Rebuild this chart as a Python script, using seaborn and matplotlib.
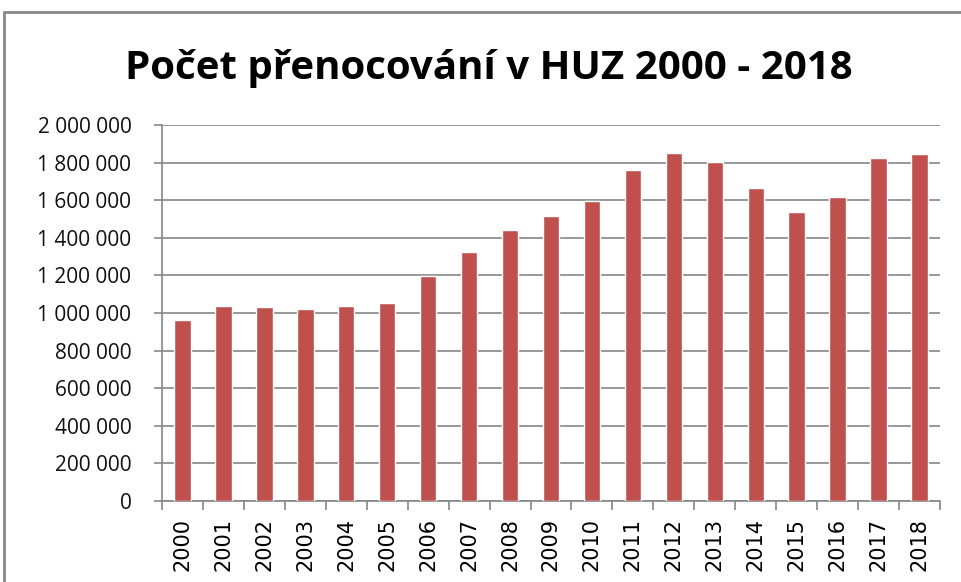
import numpy as np
import pandas as pd
import matplotlib
matplotlib.use("Agg")
import matplotlib.pyplot as plt
import seaborn as sns
from matplotlib.ticker import FuncFormatter, FixedLocator
from matplotlib.lines import Line2D

years = [str(y) for y in range(2000, 2019)]
values = [963000, 1039000, 1030000, 1023000, 1039000, 1052000, 1199000, 1325000,
          1442000, 1516000, 1597000, 1762000, 1849000, 1801000, 1666000, 1537000,
          1618000, 1823000, 1844000]
title = "Počet přenocování v HUZ 2000 - 2018"
bar_color = "#C0504D"
grid_color = "#868686"

sns.set_theme(style="white")
plt.rcParams['font.family'] = ['Open Sans', 'DejaVu Sans']

df = pd.DataFrame({"year": years, "value": values})

fig = plt.figure(figsize=(9.62, 5.82), dpi=100)
ax = fig.add_axes([162/962, 1 - 501/582, (940 - 162)/962, (501 - 125)/582])

sns.barplot(data=df, x="year", y="value", color=bar_color, width=0.4,
            saturation=1, ax=ax, zorder=3)

ax.set_xlim(-0.5, len(years) - 0.5)
ax.set_ylim(0, 2000000)
ax.set_yticks(np.arange(0, 2000001, 200000))
ax.yaxis.set_major_formatter(FuncFormatter(lambda v, p: f"{int(v):,}".replace(",", " ")))
ax.grid(axis="y", color=grid_color, linewidth=1.2, zorder=0)
ax.set_axisbelow(True)
ax.set_xlabel("")
ax.set_ylabel("")

for s in ["top", "right"]:
    ax.spines[s].set_visible(False)
for s in ["left", "bottom"]:
    ax.spines[s].set_color(grid_color)
    ax.spines[s].set_linewidth(1.2)

ax.tick_params(axis="y", which="major", length=6, width=1.2, color=grid_color,
               labelsize=15, labelcolor="#111111", pad=16, left=True)
ax.xaxis.set_minor_locator(FixedLocator(np.arange(-0.5, len(years), 1.0)))
ax.tick_params(axis="x", which="major", length=0, labelsize=15,
               labelcolor="black", pad=12, labelrotation=90)
ax.tick_params(axis="x", which="minor", length=6.5, width=1.2, color=grid_color,
               bottom=True)
for lbl in ax.get_xticklabels():
    lbl.set_fontfamily("DejaVu Sans")

fig.text(489/962, 1 - 79.5/582, title, ha="center", va="baseline",
         fontsize=29, fontweight="bold", color="black")

# outer chart frame
fig.add_artist(Line2D([4/962, 4/962], [0, 1 - 12/582], transform=fig.transFigure,
                      color="#878787", linewidth=2))
fig.add_artist(Line2D([4/962, 1], [1 - 12/582, 1 - 12/582], transform=fig.transFigure,
                      color="#878787", linewidth=2))

fig.savefig("out.png", dpi=100, facecolor="white")
